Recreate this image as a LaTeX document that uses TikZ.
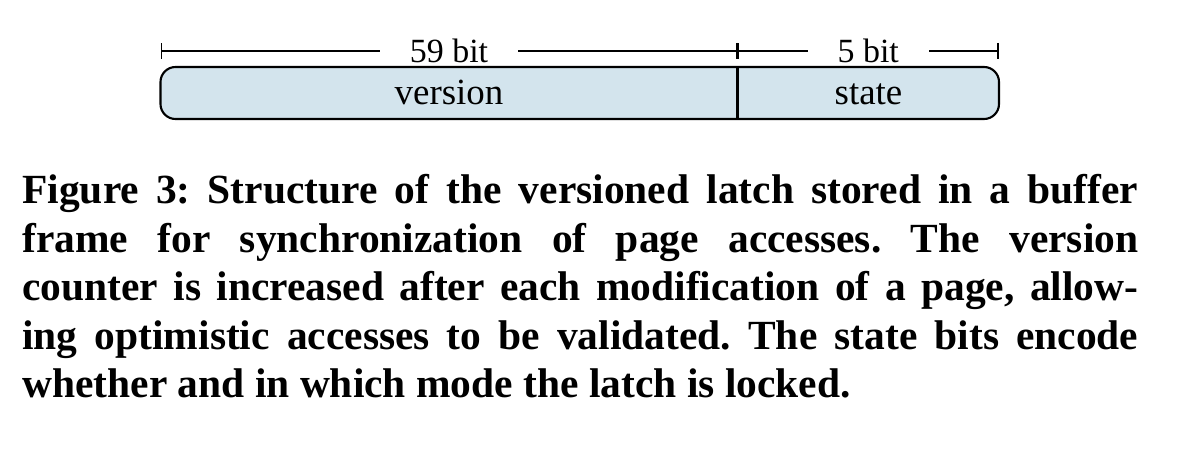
\documentclass[tikz,border=0pt]{standalone}
\usepackage{fontspec}
\setmainfont{Liberation Serif}
\usetikzlibrary{arrows.meta,positioning}
\definecolor{latchblue}{RGB}{211,228,237}
\tikzset{
	field/.style={font=\fontsize{21}{24}\selectfont, inner sep=0pt, anchor=base},
	widthlabel/.style={fill=white, inner xsep=0.6cm, inner ysep=1pt, font=\fontsize{19.3}{22}\selectfont},
	dimline/.style={line width=1pt, {Bar[width=0.32cm]}-{Bar[width=0.32cm]}},
	captiontext/.style={text width=22.32cm, align=justify, inner sep=0pt, font=\fontsize{23.6}{27.6}\selectfont\bfseries},
}

\begin{document}
\begin{tikzpicture}
	%%%%% START %%%%%
	\useasboundingbox (0,0) rectangle (23.84,9.12);
	
	% the latch word
	\draw[line width=1.2pt, fill=latchblue, rounded corners=0.3cm] (3.21,6.74) rectangle (19.98,7.78);
	\coordinate (split top) at (14.75,7.78);
	\coordinate (split bottom) at (14.75,6.74);
	\draw[line width=1.2pt] (split top) -- (split bottom);
	
	\node[field] (version) at (8.98,7.02) {version};
	\node[field] (state) at (17.37,7.02) {state};
	
	% bit widths
	\coordinate (d0) at (3.21,8.10);
	\coordinate (d1) at (14.75,8.10);
	\coordinate (d2) at (19.98,8.10);
	\draw[dimline] (d0) -- (d1) node[widthlabel, midway] (w59) {59 bit};
	\draw[dimline] (d1) -- (d2) node[widthlabel, midway] (w5) {5 bit};
	
	% caption
	\node[captiontext, anchor=north west] (caption) at (0.44,5.64) {\frenchspacing\hyphenpenalty=10000\tolerance=10000
		Figure 3: Structure of the versioned latch stored in a buffer\linebreak
		frame for synchronization of page accesses. The version\linebreak
		counter is increased after each modification of a page, allow-\linebreak
		ing optimistic accesses to be validated. The state bits encode\linebreak
		whether and in which mode the latch is locked.};
	
	%%%%% END %%%%%
\end{tikzpicture}
\end{document}
